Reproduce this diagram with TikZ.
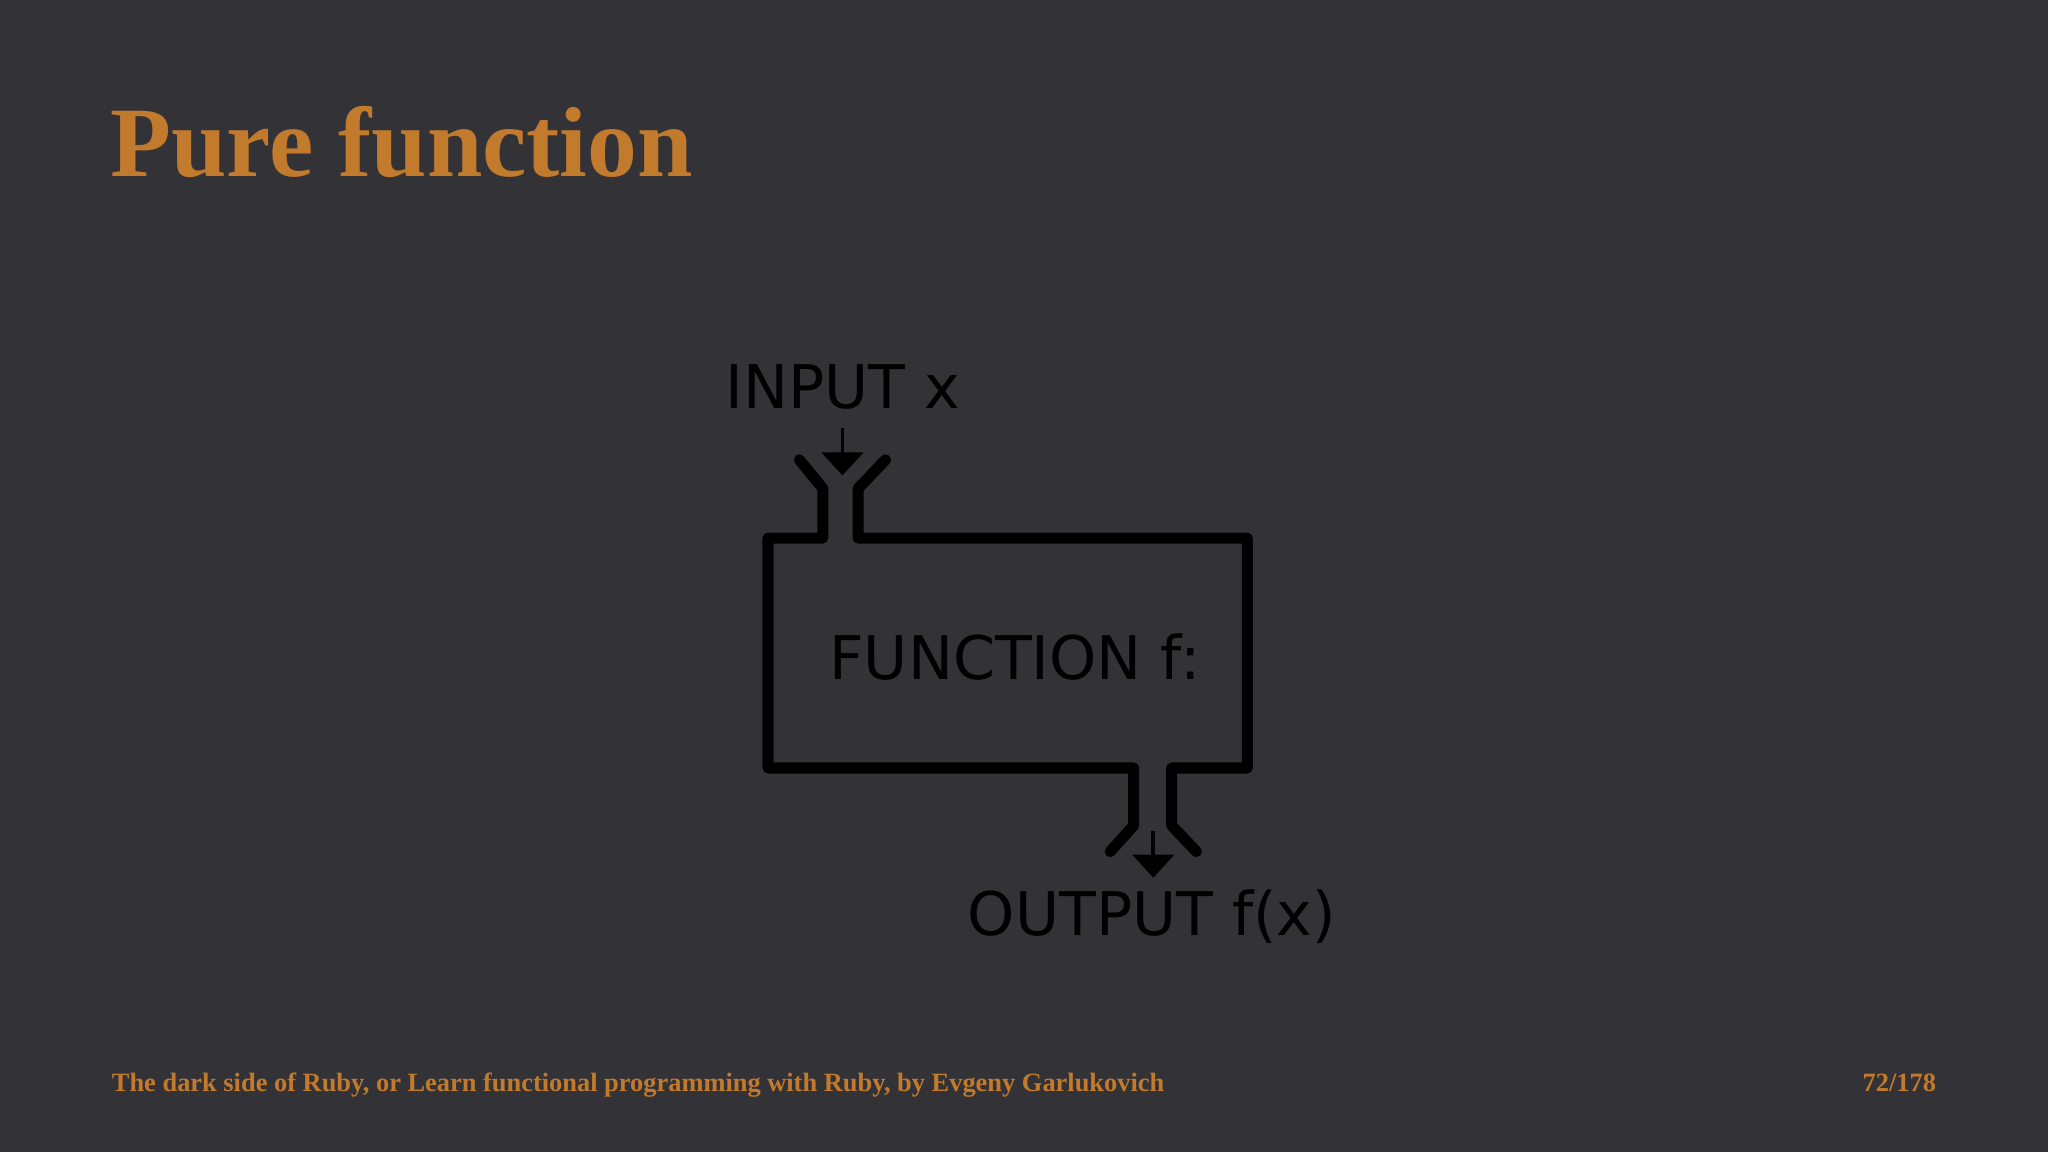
\documentclass[tikz,border=0pt]{standalone}
\usepackage{fontspec}
\setmainfont{Liberation Serif}
\newfontfamily\dv{DejaVu Sans}
\usetikzlibrary{arrows.meta}
\definecolor{bg}{HTML}{333236}
\definecolor{ttl}{HTML}{C27A2C}
\tikzset{pipe/.style={line width=2.4pt,line join=round,line cap=round},
 lbl/.style={font=\dv\fontsize{13.1}{16}\selectfont,text=black,inner sep=0pt},
 flow/.style={line width=0.8pt,-{Triangle[length=5pt,width=9pt]}}}
\begin{document}
\begin{tikzpicture}[x=0.01cm,y=-0.01cm]
\fill[bg] (0,0) rectangle (1568,882);
\useasboundingbox (0,0) rectangle (1568,882);
\node[anchor=base west,inner sep=0,text=ttl,font=\bfseries\fontsize{21.7}{26}\selectfont] (title) at (84,135) {Pure function};
\node[anchor=base west,inner sep=0,text=ttl,font=\bfseries\fontsize{5.75}{8}\selectfont] (foot) at (85,836) {The dark side of Ruby, or Learn functional programming with Ruby, by Evgeny Garlukovich};
\node[anchor=base east,inner sep=0,text=ttl,font=\bfseries\fontsize{5.75}{8}\selectfont] (page) at (1483,836) {72/178};
\draw[pipe] (612,352) -- (630,374) -- (630,412) -- (588,412) -- (588,588) -- (868,588) -- (868,632) -- (850,652);
\draw[pipe] (678,352) -- (657,374) -- (657,412) -- (955,412) -- (955,588) -- (897,588) -- (897,632) -- (916,652);
\node[lbl,anchor=base west] (in) at (555,313) {INPUT x};
\node[lbl] (fn) at (777,503) {FUNCTION f:};
\node[lbl] (out) at (882,702) {OUTPUT f(x)};
\coordinate (a1) at (645,328); \coordinate (a2) at (645,364);
\coordinate (b1) at (883,636); \coordinate (b2) at (883,672);
\draw[flow] (a1) -- (a2);
\draw[flow] (b1) -- (b2);
\end{tikzpicture}
\end{document}
